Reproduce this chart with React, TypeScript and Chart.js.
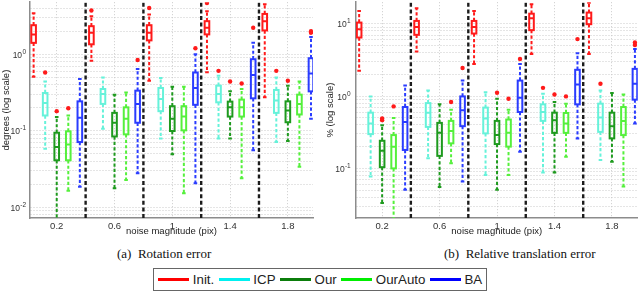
import { useEffect, useRef } from 'react';
import { Chart, registerables } from 'chart.js';

Chart.register(...registerables);

type Stat = [number, number, number, number, number]; // [whiskerLow, q1, median, q3, whiskerHigh]

const GROUPS = [0.2, 0.6, 1.0, 1.4, 1.8];
const X_TICK_LABELS = ['0.2', '0.6', '1', '1.4', '1.8'];
const DIVIDERS = [0.4, 0.8, 1.2, 1.6];
const METHODS = ['Init.', 'ICP', 'Our', 'OurAuto', 'BA'];
const OFFSETS = [-0.16, -0.08, 0, 0.08, 0.16];
const BOX_WIDTH = 0.032;
const X_TITLE = 'noise magnitude (pix)';

const BOX_COLORS = ['#ff1a1a', '#66f2da', '#1e9a1e', '#55f03c', '#2a3cff'];
const LEGEND_COLORS = ['#ff0000', '#00f0f0', '#0b7d0b', '#00ee00', '#0000ff'];
const OUTLIER_COLOR = '#ff1a1a';

// Rotation error (degrees)
const ROT_Y_TITLE = 'degrees (log scale)';
const ROT_Y_TICKS = [0.01, 0.1, 1];
const ROT_Y_EXPONENTS = ['-2', '-1', '0'];
const ROT_INIT: Stat[] = [
  [0.507, 1.41, 1.82, 2.4, 3.44],
  [0.82, 1.35, 1.91, 2.33, 3.14],
  [0.45, 1.52, 1.91, 2.4, 3.31],
  [0.58, 1.82, 2.22, 2.71, 3.65],
  [0.273, 2.05, 2.71, 3.37, 4.5],
];
const ROT_ICP: Stat[] = [
  [0.058, 0.158, 0.231, 0.311, 0.44],
  [0.106, 0.224, 0.303, 0.351, 0.497],
  [0.079, 0.18, 0.26, 0.362, 0.488],
  [0.079, 0.235, 0.303, 0.388, 0.523],
  [0.071, 0.171, 0.248, 0.341, 0.497],
];
const ROT_OUR: Stat[] = [
  [0.005, 0.041, 0.061, 0.094, 0.151],
  [0.0177, 0.084, 0.127, 0.171, 0.296],
  [0.049, 0.099, 0.143, 0.209, 0.376],
  [0.079, 0.153, 0.202, 0.24, 0.327],
  [0.073, 0.129, 0.184, 0.242, 0.388],
];
const ROT_OURAUTO: Stat[] = [
  [0.0164, 0.041, 0.066, 0.098, 0.158],
  [0.0226, 0.0895, 0.143, 0.202, 0.317],
  [0.0152, 0.101, 0.153, 0.209, 0.376],
  [0.0238, 0.153, 0.202, 0.255, 0.351],
  [0.0337, 0.163, 0.224, 0.296, 0.44],
];
const ROT_BA: Stat[] = [
  [0.0185, 0.071, 0.148, 0.242, 0.473],
  [0.0277, 0.127, 0.224, 0.334, 0.64],
  [0.0205, 0.218, 0.362, 0.577, 1.0],
  [0.0555, 0.265, 0.534, 0.861, 1.41],
  [0.143, 0.327, 0.56, 0.887, 1.68],
];
const ROT_INIT_OUT = [[], [3.73], [4.03], [4.68], []];
const ROT_ICP_OUT = [[0.577], [], [], [0.607], [0.607]];
const ROT_OUR_OUT = [[0.18], [], [], [0.44], [0.45]];
const ROT_OURAUTO_OUT = [[0.197], [], [], [0.415], []];
const ROT_BA_OUT = [[], [0.84], [1.2], [2.22], [1.91, 2.0]];

// Relative translation error (%)
const TRANS_Y_TITLE = '% (log scale)';
const TRANS_Y_TICKS = [0.1, 1, 10];
const TRANS_Y_EXPONENTS = ['-1', '0', '1'];
const TRANS_INIT: Stat[] = [
  [2.25, 6.46, 8.43, 10.4, 15.0],
  [4.15, 7.04, 9.06, 10.96, 16.4],
  [2.79, 7.33, 9.06, 10.96, 15.0],
  [3.82, 8.17, 11.9, 13.8, 18.6],
  [3.82, 9.88, 11.9, 14.3, 19.5],
];
const TRANS_ICP: Stat[] = [
  [0.077, 0.298, 0.418, 0.59, 0.99],
  [0.138, 0.375, 0.59, 0.8, 1.2],
  [0.081, 0.305, 0.49, 0.693, 1.13],
  [0.0876, 0.454, 0.603, 0.769, 1.08],
  [0.131, 0.32, 0.505, 0.786, 1.2],
];
const TRANS_OUR: Stat[] = [
  [0.0333, 0.104, 0.176, 0.241, 0.396],
  [0.0552, 0.149, 0.31, 0.426, 0.769],
  [0.0507, 0.217, 0.289, 0.454, 0.92],
  [0.0876, 0.31, 0.464, 0.59, 0.828],
  [0.124, 0.26, 0.384, 0.59, 1.1],
];
const TRANS_OURAUTO: Stat[] = [
  [0.019, 0.1, 0.2, 0.289, 0.499],
  [0.118, 0.222, 0.33, 0.454, 0.65],
  [0.081, 0.2, 0.31, 0.474, 0.65],
  [0.145, 0.31, 0.418, 0.584, 0.786],
  [0.0562, 0.289, 0.454, 0.706, 1.05],
];
const TRANS_BA: Stat[] = [
  [0.0507, 0.18, 0.44, 0.706, 1.4],
  [0.066, 0.384, 0.637, 0.99, 1.64],
  [0.17, 0.603, 0.95, 1.64, 2.79],
  [0.26, 0.769, 1.45, 2.31, 3.9],
  [0.418, 0.893, 1.48, 2.38, 4.48],
];
const TRANS_INIT_OUT = [[], [], [], [], []];
const TRANS_ICP_OUT = [[], [], [], [1.3], [1.48]];
const TRANS_OUR_OUT = [[0.465, 0.49], [], [1.11], [1.05], []];
const TRANS_OURAUTO_OUT = [[0.72], [0.828], [0.92], [0.99], []];
const TRANS_BA_OUT = [[], [2.45], [3.26], [6.14], [5.08, 5.52]];

const SANS = '"Liberation Sans", Arial, Helvetica, sans-serif';
const SERIF = '"Liberation Serif", "Times New Roman", Times, serif';

interface PanelCfg {
  stats: Stat[][];
  outliers: number[][][];
  xMin: number;
  xMax: number;
  yMin: number;
  yMax: number;
  yTitle: string;
  yTitlePad: number;
  yTicks: number[];
  yExponents: string[];
  yAxisWidth: number;
  yTickPad: number;
  padRight: number;
}

function boxPlugin(cfg: PanelCfg) {
  return {
    id: 'boxes',
    beforeDatasetsDraw(chart: any) {
      const { ctx, chartArea: a, scales } = chart;
      const x = scales.x;
      const y = scales.y;
      ctx.save();
      ctx.beginPath();
      ctx.rect(a.left, a.top, a.right - a.left, a.bottom - a.top);
      ctx.clip();
      // group dividers
      ctx.strokeStyle = '#1c1c1c';
      ctx.lineWidth = 2.4;
      ctx.setLineDash([4, 2.6]);
      for (const d of DIVIDERS) {
        const px = x.getPixelForValue(d);
        ctx.beginPath();
        ctx.moveTo(px, a.bottom);
        ctx.lineTo(px, a.top);
        ctx.stroke();
      }
      const half = (x.getPixelForValue(BOX_WIDTH) - x.getPixelForValue(0)) / 2;
      cfg.stats.forEach((series, m) => {
        ctx.strokeStyle = BOX_COLORS[m];
        series.forEach((s, g) => {
          const [lo, q1, med, q3, hi] = s;
          const cx = x.getPixelForValue(GROUPS[g] + OFFSETS[m]);
          const pLo = y.getPixelForValue(lo);
          const pQ1 = y.getPixelForValue(q1);
          const pMed = y.getPixelForValue(med);
          const pQ3 = y.getPixelForValue(q3);
          const pHi = y.getPixelForValue(hi);
          ctx.lineWidth = 2;
          ctx.setLineDash([3.2, 2.2]);
          ctx.beginPath();
          ctx.moveTo(cx, pQ3);
          ctx.lineTo(cx, pHi);
          ctx.moveTo(cx, pQ1);
          ctx.lineTo(cx, pLo);
          ctx.stroke();
          ctx.setLineDash([]);
          ctx.beginPath();
          ctx.moveTo(cx - 1.8, pHi);
          ctx.lineTo(cx + 1.8, pHi);
          ctx.moveTo(cx - 1.8, pLo);
          ctx.lineTo(cx + 1.8, pLo);
          ctx.stroke();
          ctx.strokeRect(cx - half, pQ3, half * 2, pQ1 - pQ3);
          ctx.beginPath();
          ctx.moveTo(cx - half, pMed);
          ctx.lineTo(cx + half, pMed);
          ctx.stroke();
        });
      });
      ctx.restore();
    },
    afterDraw(chart: any) {
      // power-of-ten tick labels with superscript exponents
      const { ctx, chartArea: a, scales } = chart;
      const y = scales.y;
      ctx.save();
      ctx.fillStyle = '#333';
      ctx.textAlign = 'right';
      ctx.textBaseline = 'alphabetic';
      cfg.yTicks.forEach((t, i) => {
        const py = y.getPixelForValue(t);
        const right = a.left - cfg.yTickPad;
        ctx.font = `6.5px ${SANS}`;
        const ew = ctx.measureText(cfg.yExponents[i]).width;
        ctx.fillText(cfg.yExponents[i], right, py - 0.5);
        ctx.font = `8.5px ${SANS}`;
        ctx.fillText('10', right - ew - 0.3, py + 3.5);
      });
      ctx.restore();
    },
  };
}

function makeChart(canvas: HTMLCanvasElement, cfg: PanelCfg) {
  const pts: { x: number; y: number }[] = [];
  cfg.outliers.forEach((series, m) =>
    series.forEach((vals, g) =>
      vals.forEach((v) => pts.push({ x: GROUPS[g] + OFFSETS[m], y: v }))
    )
  );
  return new Chart(canvas, {
    type: 'scatter',
    data: {
      datasets: [
        {
          label: 'outliers',
          data: pts,
          pointRadius: 2.2,
          pointHoverRadius: 2.2,
          pointStyle: 'circle',
          backgroundColor: OUTLIER_COLOR,
          borderWidth: 0,
        },
      ],
    },
    options: {
      responsive: false,
      animation: false,
      events: [],
      layout: { padding: { top: 1, right: cfg.padRight, left: 0, bottom: 0 } },
      plugins: { legend: { display: false }, tooltip: { enabled: false } },
      scales: {
        x: {
          type: 'linear',
          min: cfg.xMin,
          max: cfg.xMax,
          afterBuildTicks: (s: any) => {
            s.ticks = GROUPS.map((v) => ({ value: v }));
          },
          afterFit: (s: any) => {
            s.height = 22;
            s.paddingLeft = 0;
            s.paddingRight = 0;
          },
          title: {
            display: true,
            text: X_TITLE,
            color: '#222',
            font: { family: SANS, size: 9.5 },
            padding: { top: 0, bottom: 3.3 },
          },
          ticks: {
            autoSkip: false,
            maxRotation: 0,
            padding: 3,
            color: '#333',
            font: { family: SANS, size: 9.5 },
            callback: (_v: any, i: number) => X_TICK_LABELS[i],
          },
          grid: { color: '#cbcbcb', lineWidth: 1, drawTicks: false },
          border: { display: true, color: '#8c8c8c', width: 1.5, dash: [1, 2] },
        },
        y: {
          type: 'logarithmic',
          min: cfg.yMin,
          max: cfg.yMax,
          afterBuildTicks: (s: any) => {
            const t: { value: number; major: boolean }[] = [];
            for (let e = -3; e <= 2; e++) {
              for (let k = 1; k <= 9; k++) {
                const v = parseFloat((k * Math.pow(10, e)).toPrecision(6));
                if (v > cfg.yMin && v < cfg.yMax) t.push({ value: v, major: k === 1 });
              }
            }
            s.ticks = t;
          },
          afterFit: (s: any) => {
            s.width = cfg.yAxisWidth;
            s.paddingTop = 0;
            s.paddingBottom = 0;
          },
          title: {
            display: true,
            text: cfg.yTitle,
            color: '#222',
            font: { family: SANS, size: 9.5 },
            padding: { top: cfg.yTitlePad, bottom: 0 },
          },
          ticks: { display: false },
          grid: { color: '#cbcbcb', lineWidth: 1, drawTicks: false },
          border: { display: true, color: '#8c8c8c', width: 1.5, dash: [1, 2] },
        },
      },
    },
    plugins: [boxPlugin(cfg)],
  } as any);
}

const ROT_CFG: PanelCfg = {
  stats: [ROT_INIT, ROT_ICP, ROT_OUR, ROT_OURAUTO, ROT_BA],
  outliers: [ROT_INIT_OUT, ROT_ICP_OUT, ROT_OUR_OUT, ROT_OURAUTO_OUT, ROT_BA_OUT],
  xMin: 0.015,
  xMax: 1.974,
  yMin: 0.0072,
  yMax: 4.8,
  yTitle: ROT_Y_TITLE,
  yTitlePad: 1,
  yTicks: ROT_Y_TICKS,
  yExponents: ROT_Y_EXPONENTS,
  yAxisWidth: 30,
  yTickPad: 4,
  padRight: 7,
};

const TRANS_CFG: PanelCfg = {
  stats: [TRANS_INIT, TRANS_ICP, TRANS_OUR, TRANS_OURAUTO, TRANS_BA],
  outliers: [TRANS_INIT_OUT, TRANS_ICP_OUT, TRANS_OUR_OUT, TRANS_OURAUTO_OUT, TRANS_BA_OUT],
  xMin: 0.016,
  xMax: 1.98,
  yMin: 0.0206,
  yMax: 19.9,
  yTitle: TRANS_Y_TITLE,
  yTitlePad: 4.3,
  yTicks: TRANS_Y_TICKS,
  yExponents: TRANS_Y_EXPONENTS,
  yAxisWidth: 35.7,
  yTickPad: 5,
  padRight: 0,
};

function Panel({ cfg, left }: { cfg: PanelCfg; left: number }) {
  const ref = useRef<HTMLCanvasElement>(null);
  useEffect(() => {
    if (!ref.current) return;
    const c = makeChart(ref.current, cfg);
    return () => c.destroy();
  }, [cfg]);
  return (
    <canvas
      ref={ref}
      width={320}
      height={240}
      style={{ position: 'absolute', left, top: 0, width: 320, height: 240 }}
    />
  );
}

const textBase: any = { position: 'absolute', whiteSpace: 'pre', color: '#111' };

export default function App() {
  return (
    <div
      style={{
        position: 'absolute',
        left: 0,
        top: 0,
        width: 640,
        height: 292,
        background: '#fff',
        overflow: 'hidden',
        fontFamily: SANS,
      }}
    >
      <Panel cfg={ROT_CFG} left={0} />
      <Panel cfg={TRANS_CFG} left={320} />

      <div style={{ ...textBase, left: 117, top: 246, fontSize: 13, fontFamily: SERIF }}>
        {'(a)  Rotation error'}
      </div>
      <div style={{ ...textBase, left: 444, top: 246, fontSize: 13, fontFamily: SERIF }}>
        {'(b)  Relative translation error'}
      </div>

      <div
        style={{
          position: 'absolute',
          left: 153,
          top: 268,
          width: 334,
          height: 23,
          boxSizing: 'border-box',
          border: '1px solid #666',
          background: '#fff',
          display: 'flex',
          alignItems: 'center',
          paddingLeft: 4.3,
          gap: 4.6,
        }}
      >
        {METHODS.map((m, i) => (
          <div key={m} style={{ display: 'flex', alignItems: 'center', gap: 3.5 }}>
            <div style={{ width: 31, height: 2.5, background: LEGEND_COLORS[i] }} />
            <span style={{ fontSize: 13.3, color: '#222', lineHeight: '14px', fontFamily: SANS }}>{m}</span>
          </div>
        ))}
      </div>
    </div>
  );
}
